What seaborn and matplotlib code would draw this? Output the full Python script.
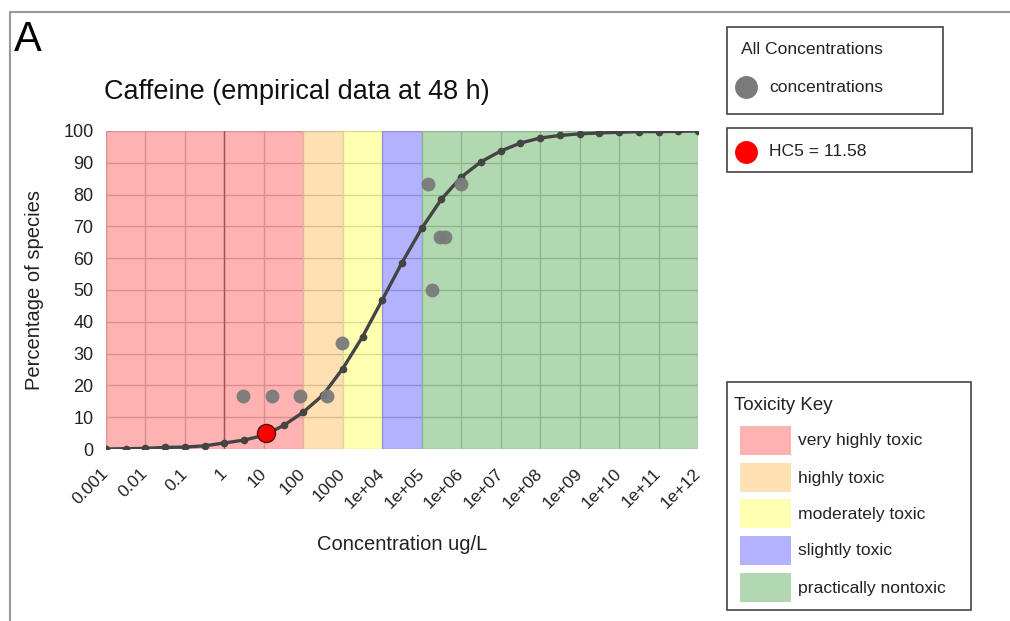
import numpy as np
import pandas as pd
import matplotlib
matplotlib.use("Agg")
import matplotlib.pyplot as plt
from matplotlib.patches import Rectangle
from matplotlib.lines import Line2D
import seaborn as sns

# Fitted species-sensitivity curve (half-decade steps, log10 ug/L)
curve_log_conc = [-3.0, -2.5, -2.0, -1.5, -1.0, -0.5, 0.0, 0.5, 1.0, 1.5, 2.0,
                  2.5, 3.0, 3.5, 4.0, 4.5, 5.0, 5.5, 6.0, 6.5, 7.0, 7.5, 8.0,
                  8.5, 9.0, 9.5, 10.0, 10.5, 11.0, 11.5, 12.0]
curve_pct = [0.0, 0.1, 0.2, 0.5, 0.6, 1.0, 1.9, 2.8, 4.3, 7.4, 11.6,
             17.0, 25.3, 35.3, 46.9, 58.6, 69.4, 78.6, 85.5, 90.3, 93.7, 96.2, 97.8,
             98.6, 99.1, 99.4, 99.6, 99.8, 99.8, 99.9, 100.0]

# Empirical toxicity concentrations (ug/L) and cumulative species percentage
conc_values = [3.0, 16.0, 83.0, 400.0, 950.0, 1.45e5, 1.8e5, 2.9e5, 3.9e5, 9.8e5]
conc_pct = [16.67, 16.67, 16.67, 16.67, 33.33, 83.33, 50.0, 66.67, 66.67, 83.33]

# Hazardous concentration for 5% of species
hc5_conc = 11.58
hc5_pct = 5.0

# Toxicity classes (ug/L)
band_names = ["very highly toxic", "highly toxic", "moderately toxic",
              "slightly toxic", "practically nontoxic"]
band_edges = [1e-3, 1e2, 1e3, 1e4, 1e5, 1e12]
band_colors = ["#ff0000", "#ff9900", "#ffff00", "#0000ff", "#008000"]

x_tick_values = [10.0 ** k for k in range(-3, 13)]
x_tick_labels = ["0.001", "0.01", "0.1", "1", "10", "100", "1000", "1e+04",
                 "1e+05", "1e+06", "1e+07", "1e+08", "1e+09", "1e+10",
                 "1e+11", "1e+12"]
y_ticks = list(range(0, 101, 10))

sns.set_theme(style="white")
plt.rcParams["font.family"] = ["Liberation Sans", "DejaVu Sans"]

W, H = 1010, 621
fig = plt.figure(figsize=(W / 100, H / 100), dpi=100)


def fx(x):
    return x / W


def fy(y):
    return 1 - y / H


ax = fig.add_axes([fx(106), fy(449), (698 - 106) / W, (449 - 131) / H])

curve_df = pd.DataFrame({"conc": [10.0 ** v for v in curve_log_conc], "pct": curve_pct})
conc_df = pd.DataFrame({"conc": conc_values, "pct": conc_pct})
hc5_df = pd.DataFrame({"conc": [hc5_conc], "pct": [hc5_pct]})

ax.set_xscale("log")
ax.set_xlim(band_edges[0], band_edges[-1])
ax.set_ylim(0, 100)

# grid underneath the translucent toxicity bands
for yv in y_ticks:
    ax.axhline(yv, color="#cccccc", lw=1, zorder=0)
for xv in x_tick_values:
    ax.axvline(xv, color="#cccccc", lw=1, zorder=0)
ax.axvline(1.0, color="#777777", lw=1, zorder=0.5)

for lo, hi, col in zip(band_edges[:-1], band_edges[1:], band_colors):
    ax.axvspan(lo, hi, color=col, alpha=0.3, lw=0, zorder=1)

sns.lineplot(data=curve_df, x="conc", y="pct", ax=ax, color="#444444", lw=2.4,
             marker="o", markersize=5.5, markeredgewidth=0, zorder=3)
sns.scatterplot(data=conc_df, x="conc", y="pct", ax=ax, color="#7a7a7a", s=100,
                linewidth=0, alpha=0.95, zorder=4)
sns.scatterplot(data=hc5_df, x="conc", y="pct", ax=ax, color="#ff0000", s=170,
                edgecolor="#551111", linewidth=1.0, zorder=5)

ax.set_xticks(x_tick_values)
ax.set_xticklabels(x_tick_labels, rotation=45, ha="right", va="center",
                   rotation_mode="anchor", fontsize=12.5, color="#222222")
ax.xaxis.set_minor_locator(matplotlib.ticker.NullLocator())
ax.set_yticks(y_ticks)
ax.set_yticklabels([str(v) for v in y_ticks], fontsize=13, color="#222222")
ax.tick_params(axis="both", length=6, width=1, color="#cccccc", pad=3)
ax.tick_params(axis="x", pad=10)
for s in ax.spines.values():
    s.set_visible(False)
ax.set_xlabel("")
ax.set_ylabel("")

fig.text(fx(35), fy(290), "Percentage of species", rotation=90, ha="center",
         va="center", fontsize=14.5, color="#222222")
fig.text(fx(402), fy(545), "Concentration ug/L", ha="center", va="center",
         fontsize=14.5, color="#222222")
fig.text(fx(104), fy(92), "Caffeine (empirical data at 48 h)", ha="left",
         va="center", fontsize=19.5, color="#111111")
fig.text(fx(14), fy(40), "A", ha="left", va="center", fontsize=30, color="#000000")

# outer frame lines
fig.add_artist(Line2D([fx(10), fx(1010)], [fy(12), fy(12)], color="#999999", lw=1.5))
fig.add_artist(Line2D([fx(10), fx(10)], [fy(12), fy(621)], color="#999999", lw=1.5))


def box(x0, y0, x1, y1):
    fig.add_artist(Rectangle((fx(x0), fy(y1)), fx(x1) - fx(x0), fy(y0) - fy(y1),
                             transform=fig.transFigure, facecolor="white",
                             edgecolor="#444444", lw=1.2))


def dot(x, y, color, size):
    fig.add_artist(Line2D([fx(x)], [fy(y)], marker="o", markersize=size,
                          color=color, markeredgewidth=0, linestyle="none"))


legend_fs = 12.6

box(727, 27, 943, 114)
fig.text(fx(741), fy(49), "All Concentrations", ha="left", va="center",
         fontsize=legend_fs, color="#222222")
dot(746, 87, "#7a7a7a", 16.5)
fig.text(fx(769), fy(87), "concentrations", ha="left", va="center",
         fontsize=legend_fs, color="#222222")

box(727, 128, 972, 172)
dot(746, 152, "#ff0000", 16.5)
fig.text(fx(769), fy(152), f"HC5 = {hc5_conc}", ha="left", va="center",
         fontsize=legend_fs, color="#222222")

box(727, 382, 971, 610)
fig.text(fx(734), fy(405), "Toxicity Key", ha="left", va="center",
         fontsize=13.5, color="#222222")
row_y = [441, 478, 514, 551, 588]
for name, col, yc in zip(band_names, band_colors, row_y):
    fig.add_artist(Rectangle((fx(740), fy(yc + 14)), fx(791) - fx(740), (29) / H,
                             transform=fig.transFigure, facecolor=col, alpha=0.3,
                             edgecolor="none"))
    fig.text(fx(798), fy(yc), name, ha="left", va="center", fontsize=legend_fs,
             color="#222222")

fig.savefig("out.png", dpi=100)
